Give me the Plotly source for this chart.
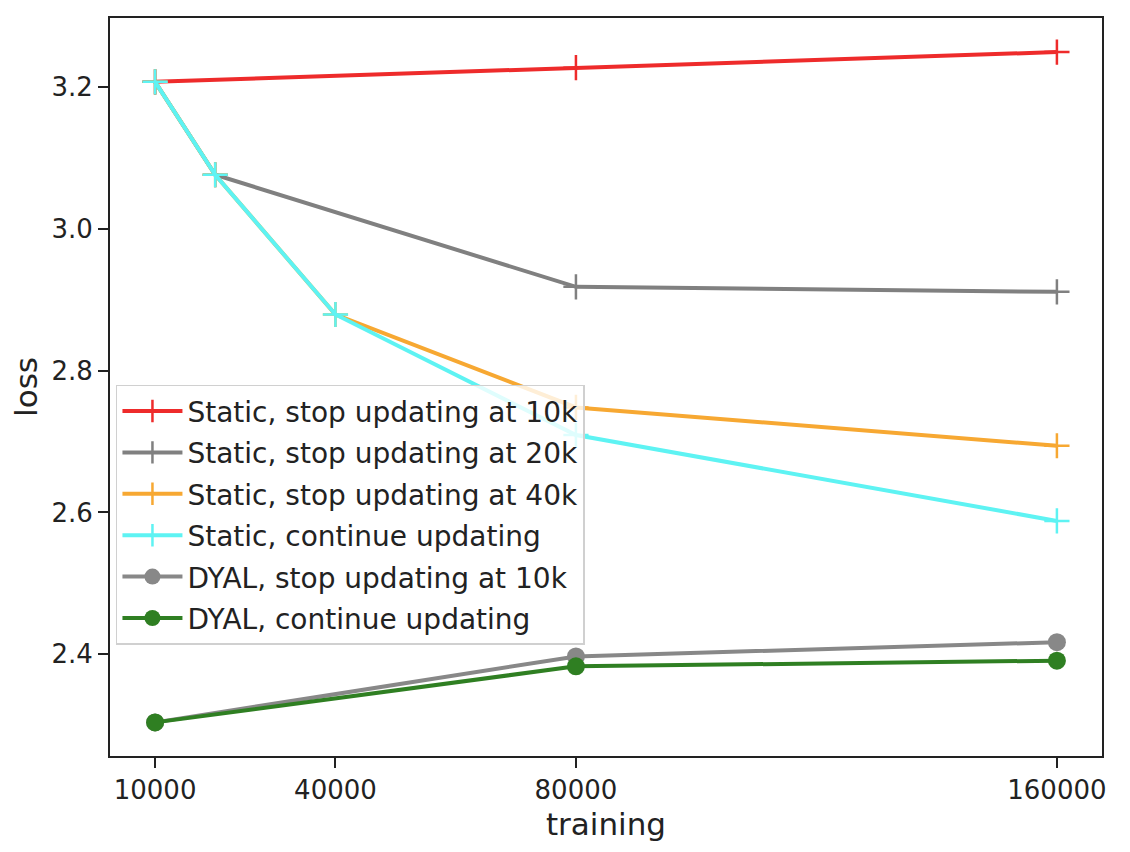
import plotly.graph_objects as go

# loss vs training steps
steps_3 = [10000, 80000, 160000]
steps_4 = [10000, 20000, 80000, 160000]
steps_5 = [10000, 20000, 40000, 80000, 160000]

static_stop_10k = [3.207, 3.227, 3.249]
static_stop_20k = [3.207, 3.076, 2.918, 2.911]
static_stop_40k = [3.207, 3.076, 2.879, 2.748, 2.694]
static_continue = [3.207, 3.076, 2.879, 2.709, 2.588]
dyal_stop_10k = [2.304, 2.397, 2.417]
dyal_continue = [2.304, 2.383, 2.391]

x_ticks = [10000, 40000, 80000, 160000]
y_ticks = [2.4, 2.6, 2.8, 3.0, 3.2]

FONT = "DejaVu Sans"

series = [
    ("Static, stop updating at 10k", steps_3, static_stop_10k, "#ee2b2b", "cross-thin"),
    ("Static, stop updating at 20k", steps_4, static_stop_20k, "#808080", "cross-thin"),
    ("Static, stop updating at 40k", steps_5, static_stop_40k, "#f7a832", "cross-thin"),
    ("Static, continue updating", steps_5, static_continue, "#5ef3f3", "cross-thin"),
    ("DYAL, stop updating at 10k", steps_3, dyal_stop_10k, "#888888", "circle"),
    ("DYAL, continue updating", steps_3, dyal_continue, "#2f7f22", "circle"),
]

fig = go.Figure()
for i, (name, xs, ys, col, sym) in enumerate(series):
    if sym == "circle":
        mk = dict(symbol="circle", size=18, color=col, line=dict(width=0))
    else:
        mk = dict(symbol="cross-thin", size=18, color=col, line=dict(width=2.5, color=col))
    fig.add_trace(go.Scatter(
        x=xs, y=ys, name=name, mode="lines+markers",
        line=dict(color=col, width=4),
        marker=mk,
        legendgroup="g%d" % i,
    ))

# page body adds ~8px offset, so margins are shifted by that
fig.update_layout(
    width=1130, height=852,
    margin=dict(l=102, r=36, t=8, b=104),
    plot_bgcolor="white", paper_bgcolor="white",
    font=dict(family=FONT, size=26, color="#222222"),
    legend=dict(
        x=0.006, y=0.503, xanchor="left", yanchor="top",
        bgcolor="rgba(255,255,255,0.8)", bordercolor="#d0d0d0", borderwidth=1.5,
        font=dict(family=FONT, size=28, color="#222222"),
        tracegroupgap=2, itemwidth=60,
    ),
    showlegend=True,
)
fig.update_xaxes(
    range=[2500, 167500], tickvals=x_ticks, ticktext=[str(v) for v in x_ticks],
    showgrid=False, zeroline=False, showline=True, mirror=True,
    linecolor="#222222", linewidth=2, ticks="outside", ticklen=10, tickwidth=2,
    tickcolor="#222222",
    title=dict(text="training", standoff=9),
)
fig.update_yaxes(
    range=[2.2566, 3.297], tickvals=y_ticks, tickformat=".1f",
    showgrid=False, zeroline=False, showline=True, mirror=True,
    linecolor="#222222", linewidth=2, ticks="outside", ticklen=10, tickwidth=2,
    tickcolor="#222222",
    title=dict(text="loss", standoff=12),
)

fig.write_html("out.html")
